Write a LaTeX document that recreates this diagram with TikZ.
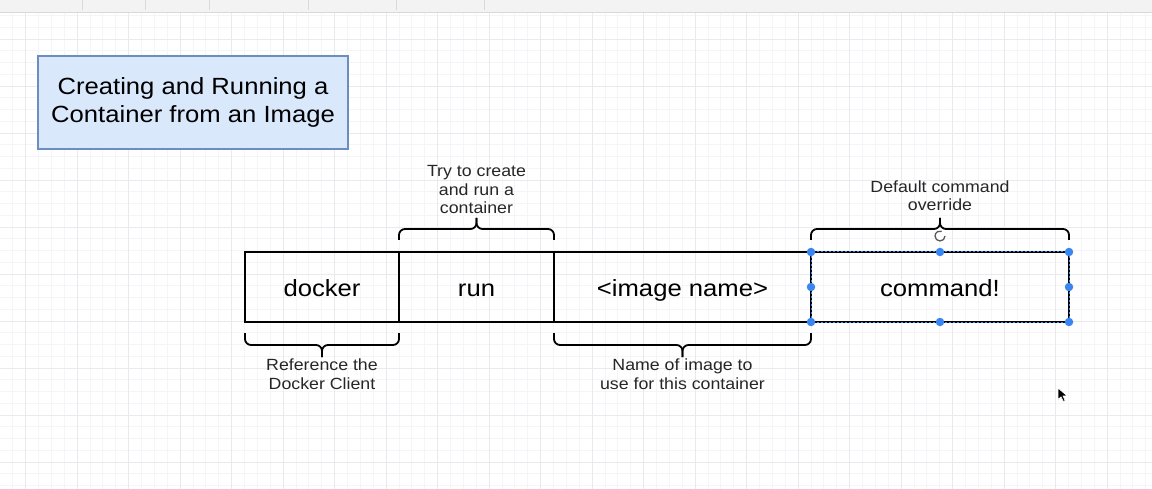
\documentclass[tikz,border=0pt]{standalone}
\usepackage{fontspec}
\setmainfont{Liberation Sans}[FakeStretch=1.096]
\usetikzlibrary{positioning,calc}

\definecolor{titlefill}{HTML}{DAE8FC}
\definecolor{titleline}{HTML}{6C8EBF}
\definecolor{gridminor}{HTML}{F5F5F8}
\definecolor{gridmajor}{HTML}{E9E9EE}
\definecolor{selblue}{HTML}{3A86F0}
\definecolor{barfill}{HTML}{F3F3F3}

\begin{document}
\begin{tikzpicture}[x=1pt,y=-1pt,
  part/.style={draw,line width=2pt,minimum height=70pt,outer sep=0pt,inner sep=0pt,
    text height=21pt,text depth=2pt,font=\fontsize{23.4}{28}\selectfont},
  note/.style={align=center,inner sep=1pt,text=black!85,font=\fontsize{16.2}{18.5}\selectfont},
  curly/.style={line width=1.8pt,rounded corners=6pt},
  handle/.style={circle,fill=selblue,inner sep=0pt,minimum size=8.5pt}]

\useasboundingbox[fill=white] (0,0) rectangle (1152,489);

% grid
\foreach \x in {12.7,25.575,...,1152} \draw[gridminor,line width=0.8pt] (\x,12) -- (\x,489);
\foreach \y in {15.5,27.25,...,489} \draw[gridminor,line width=0.8pt] (0,\y) -- (1152,\y);
\foreach \x in {25.6,77.1,...,1152} \draw[gridmajor,line width=0.8pt] (\x,12) -- (\x,489);
\foreach \y in {39,86,...,489} \draw[gridmajor,line width=0.8pt] (0,\y) -- (1152,\y);

% toolbar
\fill[barfill] (0,0) rectangle (1152,12);
\draw[black!15] (0,12) -- (1152,12);
\foreach \x in {82,145,209,308,396,484} \draw[black!15] (\x,0) -- (\x,10);

% title
\node[draw=titleline,fill=titlefill,line width=1.6pt,minimum width=310pt,minimum height=93pt,
  align=center,font=\fontsize{23.4}{28}\selectfont] (title) at (193,102.5)
  {Creating and Running a\\Container from an Image};

% command line parts
\node[part,minimum width=154pt] (docker) at (322,287) {docker};
\node[part,minimum width=155pt,right=0pt of docker] (run) {run};
\node[part,minimum width=257pt,right=0pt of run] (image) {<image name>};
\node[part,minimum width=258pt,right=0pt of image] (cmd) {command!};

% braces
\coordinate (runtip) at ([yshift=34]run.north);
\coordinate (cmdtip) at ([yshift=34]cmd.north);
\coordinate (dockertip) at ([yshift=-35]docker.south);
\coordinate (imagetip) at ([yshift=-35]image.south);

\draw[curly] ([yshift=12]run.north west) -- ([yshift=23]run.north west) -- ([yshift=23]run.north) -- (runtip);
\draw[curly] ([yshift=12]run.north east) -- ([yshift=23]run.north east) -- ([yshift=23]run.north) -- (runtip);
\draw[curly] ([yshift=12]cmd.north west) -- ([yshift=23]cmd.north west) -- ([yshift=23]cmd.north) -- (cmdtip);
\draw[curly] ([yshift=12]cmd.north east) -- ([yshift=23]cmd.north east) -- ([yshift=23]cmd.north) -- (cmdtip);
\draw[curly] ([yshift=-11]docker.south west) -- ([yshift=-23]docker.south west) -- ([yshift=-23]docker.south) -- (dockertip);
\draw[curly] ([yshift=-11]docker.south east) -- ([yshift=-23]docker.south east) -- ([yshift=-23]docker.south) -- (dockertip);
\draw[curly] ([yshift=-11]image.south west) -- ([yshift=-23]image.south west) -- ([yshift=-23]image.south) -- (imagetip);
\draw[curly] ([yshift=-11]image.south east) -- ([yshift=-23]image.south east) -- ([yshift=-23]image.south) -- (imagetip);

\node[note,above=3pt of runtip] (runnote) {Try to create\\and run a\\container};
\node[note,above=6pt of cmdtip] (cmdnote) {Default command\\override};
\node[note,below=1pt of dockertip] (dockernote) {Reference the\\Docker Client};
\node[note,below=1pt of imagetip] (imagenote) {Name of image to\\use for this container};

% selection
\draw[selblue,line width=1pt,dash pattern=on 2pt off 2pt] (cmd.north west) rectangle (cmd.south east);
\foreach \a/\n in {north west/1,north/2,north east/3,east/4,south east/5,south/6,south west/7,west/8}
  \node[handle] (h\n) at (cmd.\a) {};
\coordinate (rot) at ([yshift=16]cmd.north);
\fill[white] (rot) circle[radius=6];
\draw[black!65,line width=1.3pt] ([xshift=5]rot) arc[start angle=0,end angle=290,radius=5];

% cursor
\draw[white,fill=black,line width=0.6pt] (1058,388) -- (1058,399.5) -- (1061,396.8) -- (1063.3,401.5)
  -- (1065.2,400.6) -- (1063,396) -- (1067,395.8) -- cycle;
\end{tikzpicture}
\end{document}
